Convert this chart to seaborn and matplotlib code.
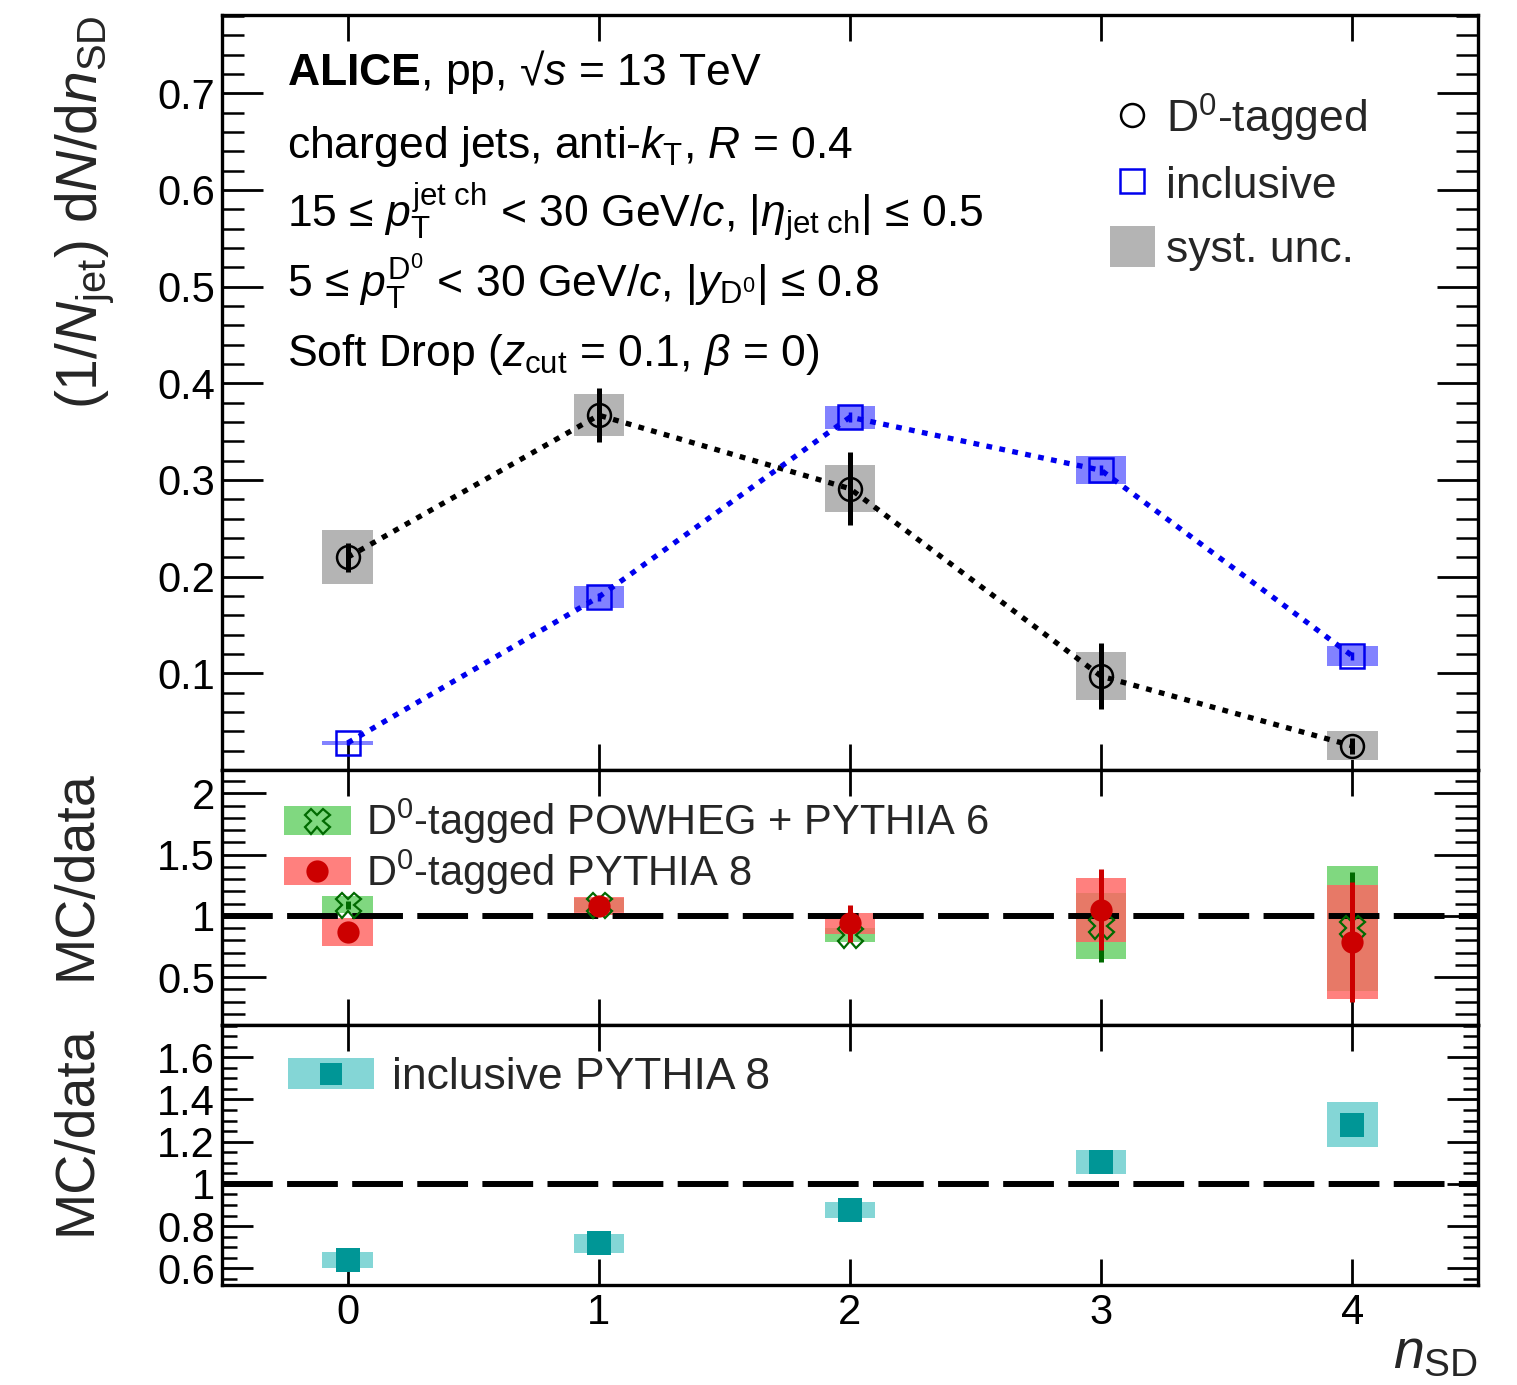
import numpy as np
import matplotlib
matplotlib.use("Agg")
import matplotlib.pyplot as plt
import seaborn as sns
from matplotlib.patches import Patch
from matplotlib.lines import Line2D
from matplotlib.legend_handler import HandlerTuple
from matplotlib.ticker import MultipleLocator, FixedLocator, NullLocator

# ---------------- data ----------------
n_sd = [0, 1, 2, 3, 4]
x_ticklabels = ["0", "1", "2", "3", "4"]

# top panel: normalised distributions
d0_val = [0.220, 0.367, 0.291, 0.097, 0.025]
d0_stat = [0.015, 0.028, 0.038, 0.034, 0.008]
d0_syst = [0.028, 0.022, 0.024, 0.025, 0.015]
incl_val = [0.028, 0.179, 0.365, 0.310, 0.118]
incl_stat = [0.002, 0.004, 0.005, 0.005, 0.004]
incl_syst = [0.0025, 0.011, 0.012, 0.0145, 0.010]

# middle panel: D0-tagged MC/data
powheg_val = [1.09, 1.09, 0.845, 0.92, 0.90]
powheg_stat = [0.03, 0.03, 0.05, 0.30, 0.46]
powheg_syst = [0.07, 0.06, 0.055, 0.27, 0.51]
py8_val = [0.87, 1.08, 0.94, 1.05, 0.79]
py8_stat = [0.04, 0.04, 0.15, 0.33, 0.49]
py8_syst = [0.115, 0.07, 0.085, 0.26, 0.465]

# bottom panel: inclusive MC/data
inclpy8_val = [0.640, 0.720, 0.877, 1.104, 1.280]
inclpy8_syst = [0.038, 0.045, 0.038, 0.057, 0.107]

top_yticks = [0.1, 0.2, 0.3, 0.4, 0.5, 0.6, 0.7]
top_yticklabels = ["0.1", "0.2", "0.3", "0.4", "0.5", "0.6", "0.7"]
mid_yticks = [0.5, 1.0, 1.5, 2.0]
mid_yticklabels = ["0.5", "1", "1.5", "2"]
bot_yticks = [0.6, 0.8, 1.0, 1.2, 1.4, 1.6]
bot_yticklabels = ["0.6", "0.8", "1", "1.2", "1.4", "1.6"]

# ---------------- style ----------------
sns.set_theme(style="ticks")
plt.rcParams["font.family"] = ["Liberation Sans", "DejaVu Sans"]
plt.rcParams["mathtext.fontset"] = "custom"
plt.rcParams["mathtext.rm"] = "Liberation Sans"
plt.rcParams["mathtext.it"] = "Liberation Sans:italic"
plt.rcParams["mathtext.bf"] = "Liberation Sans:bold"
plt.rcParams["mathtext.sf"] = "Liberation Sans"

C_GRAY = "#b4b4b4"
C_BLUE = "#0000ee"
C_LBLUE = "#8282ff"
C_LGREEN = "#80d880"
C_DGREEN = "#006a00"
C_RED = "#cc0000"
C_LRED = "#ff6462"
C_LTEAL = "#84d6d6"
C_DTEAL = "#009696"

fig = plt.figure(figsize=(15.17, 13.85), dpi=100)
L, W = 222 / 1517, 1256 / 1517
def fy(y):
    return 1 - y / 1385
ax1 = fig.add_axes([L, fy(770), W, fy(15) - fy(770)])
ax2 = fig.add_axes([L, fy(1025), W, fy(770) - fy(1025)])
ax3 = fig.add_axes([L, fy(1285), W, fy(1025) - fy(1285)])

TICK_FS = 30

def style_axes(ax, ymaj_len, ymin_len, xlen):
    for s in ax.spines.values():
        s.set_linewidth(2.4)
        s.set_color("black")
    ax.set_xlim(-0.5, 4.5)
    ax.xaxis.set_major_locator(FixedLocator(n_sd))
    ax.xaxis.set_minor_locator(NullLocator())
    ax.tick_params(axis="both", which="both", direction="in", top=True, right=True,
                   labelsize=TICK_FS, colors="black")
    ax.tick_params(axis="y", which="major", length=ymaj_len, width=2.0, pad=5)
    ax.tick_params(axis="y", which="minor", length=ymin_len, width=1.8)
    ax.tick_params(axis="x", which="major", length=xlen, width=2.0, pad=6)
    ax.grid(False)

arr = np.asarray

# ---------------- top panel ----------------
ax1.bar(n_sd, 2 * arr(d0_syst), bottom=arr(d0_val) - arr(d0_syst), width=0.2,
        color=C_GRAY, linewidth=0, zorder=1)
ax1.bar(n_sd, 2 * arr(incl_syst), bottom=arr(incl_val) - arr(incl_syst), width=0.2,
        color=C_LBLUE, linewidth=0, zorder=1)
sns.lineplot(x=n_sd, y=d0_val, ax=ax1, color="black", linewidth=3.8,
             linestyle=(0, (1.1, 1.4)), errorbar=None, zorder=2)
sns.lineplot(x=n_sd, y=incl_val, ax=ax1, color=C_BLUE, linewidth=3.8,
             linestyle=(0, (1.1, 1.4)), errorbar=None, zorder=2)
ax1.errorbar(n_sd, d0_val, yerr=d0_stat, fmt="o", mfc="none", mec="black", ms=16.5,
             mew=1.8, ecolor="black", elinewidth=3.6, capsize=0, zorder=3)
ax1.errorbar(n_sd, incl_val, yerr=incl_stat, fmt="s", mfc="none", mec=C_BLUE, ms=17,
             mew=1.8, ecolor=C_BLUE, elinewidth=2.5, capsize=0, zorder=3)
ax1.set_ylim(0, 0.781)
ax1.yaxis.set_major_locator(FixedLocator(top_yticks))
ax1.set_yticklabels(top_yticklabels)
ax1.yaxis.set_minor_locator(MultipleLocator(0.02))
style_axes(ax1, 29.5, 16, 19)
ax1.tick_params(axis="x", labelbottom=False)
ax1.set_ylabel(r"(1/$N_{\mathrm{jet}}$) d$N$/d$n_{\mathrm{SD}}$", fontsize=41, loc="top")
ax1.yaxis.set_label_coords(-0.084, 1.0)

TXT_FS = 32
tx = (287 - 222) / 1256
lines = [
    (85, r"$\mathbf{ALICE}$, pp, √$s$ = 13 TeV"),
    (158, r"charged jets, anti-$k_{\mathrm{T}}$, $R$ = 0.4"),
    (228, r"15 ≤ $p_{\mathrm{T}}^{\mathrm{jet\ ch}}$ < 30 GeV/$c$, |$\eta_{\mathrm{jet\ ch}}$| ≤ 0.5"),
    (297, r"5 ≤ $p_{\mathrm{T}}^{\mathrm{D^{0}}}$ < 30 GeV/$c$, |$y_{\mathrm{D^{0}}}$| ≤ 0.8"),
    (366, r"Soft Drop ($z_{\mathrm{cut}}$ = 0.1, $\beta$ = 0)"),
]
for yb, s in lines:
    ax1.text(tx, (770 - yb) / 755, s, transform=ax1.transAxes, fontsize=TXT_FS,
             ha="left", va="baseline", color="black")

h_d0 = Line2D([], [], marker="o", linestyle="none", mfc="none", mec="black", ms=16.5, mew=1.8)
h_in = Line2D([], [], marker="s", linestyle="none", mfc="none", mec=C_BLUE, ms=17, mew=1.8)
h_sy = Patch(facecolor=C_GRAY, edgecolor="none")
leg1 = ax1.legend([h_d0, h_in, h_sy], [r"D$^{0}$-tagged", "inclusive", "syst. unc."],
                  loc="upper left", bbox_to_anchor=((1110 - 222) / 1256, (770 - 92) / 755),
                  frameon=False, fontsize=32, handlelength=1.01, handleheight=1.04,
                  handletextpad=0.25, labelspacing=0.42, borderpad=0, borderaxespad=0)

# ---------------- middle panel ----------------
ax2.bar(n_sd, 2 * arr(powheg_syst), bottom=arr(powheg_val) - arr(powheg_syst), width=0.2,
        color=C_LGREEN, linewidth=0, zorder=1)
ax2.bar(n_sd, 2 * arr(py8_syst), bottom=arr(py8_val) - arr(py8_syst), width=0.2,
        color=C_LRED, alpha=0.82, linewidth=0, zorder=1.5)
ax2.axhline(1.0, color="black", linewidth=4.3, linestyle=(0, (8.5, 2.4)), zorder=2)
ax2.errorbar(n_sd, powheg_val, yerr=powheg_stat, fmt="X", mfc="none", mec=C_DGREEN, ms=18,
             mew=1.6, ecolor=C_DGREEN, elinewidth=3.6, capsize=0, zorder=3)
ax2.errorbar(n_sd, py8_val, yerr=py8_stat, fmt="o", mfc=C_RED, mec=C_RED, ms=16,
             mew=0, ecolor=C_RED, elinewidth=3.6, capsize=0, zorder=4)
ax2.set_ylim(0.11, 2.19)
ax2.yaxis.set_major_locator(FixedLocator(mid_yticks))
ax2.set_yticklabels(mid_yticklabels)
ax2.yaxis.set_minor_locator(MultipleLocator(0.1))
style_axes(ax2, 32, 16.5, 19)
ax2.tick_params(axis="x", labelbottom=False)
ax2.set_ylabel("MC/data", fontsize=40, loc="top")
ax2.yaxis.set_label_coords(-0.095, 1.0)

h_pw = (Patch(facecolor=C_LGREEN, edgecolor="none"),
        Line2D([], [], marker="X", linestyle="none", mfc="none", mec=C_DGREEN, ms=18, mew=1.6))
h_p8 = (Patch(facecolor=C_LRED, alpha=0.82, edgecolor="none"),
        Line2D([], [], marker="o", linestyle="none", mfc=C_RED, mec=C_RED, ms=16, mew=0))
leg2 = ax2.legend([h_pw, h_p8], [r"D$^{0}$-tagged POWHEG + PYTHIA 6", r"D$^{0}$-tagged PYTHIA 8"],
                  handler_map={tuple: HandlerTuple(ndivide=1, pad=0)},
                  loc="upper left", bbox_to_anchor=((284 - 222) / 1256, (1025 - 797) / 255),
                  frameon=False, fontsize=30, handlelength=1.6, handleheight=0.68,
                  handletextpad=0.36, labelspacing=0.02, borderpad=0, borderaxespad=0)

# ---------------- bottom panel ----------------
ax3.bar(n_sd, 2 * arr(inclpy8_syst), bottom=arr(inclpy8_val) - arr(inclpy8_syst), width=0.2,
        color=C_LTEAL, linewidth=0, zorder=1)
ax3.axhline(1.0, color="black", linewidth=4.3, linestyle=(0, (8.5, 2.4)), zorder=2)
sns.scatterplot(x=n_sd, y=inclpy8_val, ax=ax3, marker="s", color=C_DTEAL, s=17 ** 2,
                linewidth=0, zorder=3)
ax3.set_ylim(0.521, 1.753)
ax3.yaxis.set_major_locator(FixedLocator(bot_yticks))
ax3.set_yticklabels(bot_yticklabels)
ax3.yaxis.set_minor_locator(MultipleLocator(0.05))
style_axes(ax3, 22, 11, 19)
ax3.set_xticklabels(x_ticklabels)
ax3.set_ylabel("MC/data", fontsize=40, loc="top")
ax3.yaxis.set_label_coords(-0.095, 1.0)
ax3.set_xlabel(r"$n_{\mathrm{SD}}$", fontsize=40, loc="right")
ax3.xaxis.set_label_coords(1.0, -0.165)

h_ip = (Patch(facecolor=C_LTEAL, edgecolor="none"),
        Line2D([], [], marker="s", linestyle="none", mfc=C_DTEAL, mec=C_DTEAL, ms=16.5, mew=0))
leg3 = ax3.legend([h_ip], ["inclusive PYTHIA 8"],
                  handler_map={tuple: HandlerTuple(ndivide=1, pad=0)},
                  loc="upper left", bbox_to_anchor=((288 - 222) / 1256, (1285 - 1057) / 260),
                  frameon=False, fontsize=32, handlelength=1.94, handleheight=0.68,
                  handletextpad=0.4, borderpad=0, borderaxespad=0)

fig.savefig("out.png", dpi=100)
